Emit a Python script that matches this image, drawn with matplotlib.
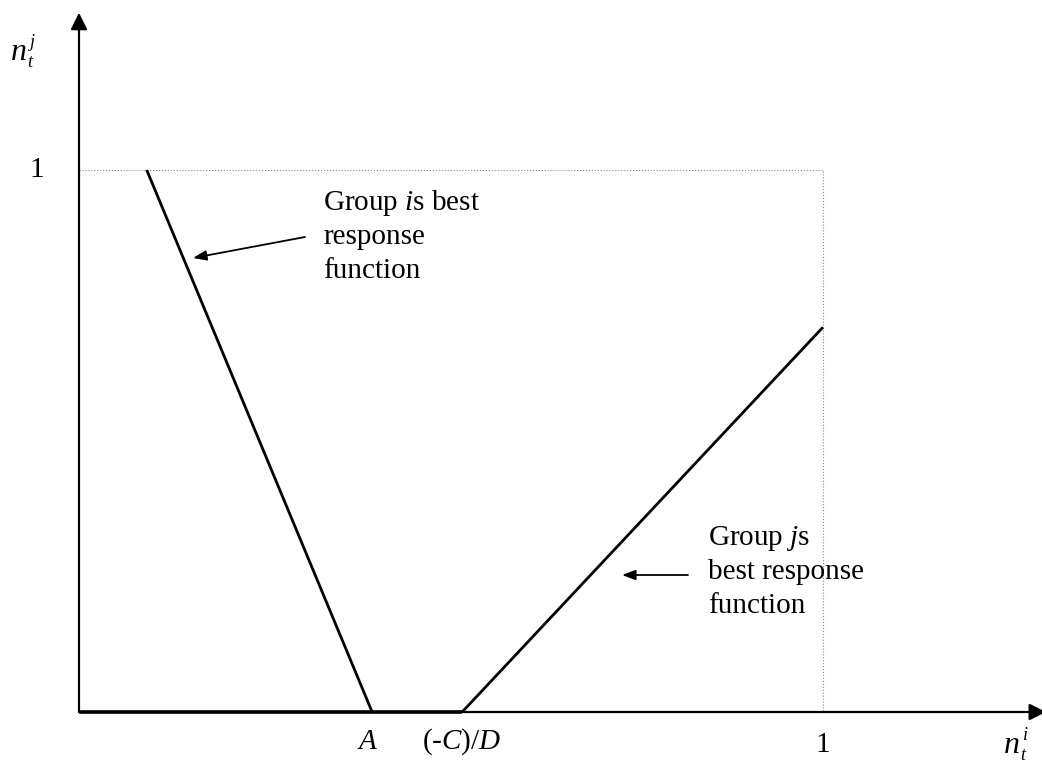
import matplotlib
matplotlib.use("Agg")
import matplotlib.pyplot as plt

plt.rcParams['font.family'] = 'Liberation Serif'
plt.rcParams['mathtext.fontset'] = 'custom'
plt.rcParams['mathtext.rm'] = 'Liberation Serif'
plt.rcParams['mathtext.it'] = 'Liberation Serif:italic'

# key values of the diagram (axes run 0..1)
i_top_x = 0.091      # where group i's line meets n_j = 1
A = 0.394            # group i's line meets n_j = 0
CD = 0.515           # (-C)/D, group j's line leaves the axis
j_end_y = 0.710      # group j's line at n_i = 1
axis_tip = 1.29

FS = 21

# pixel -> data helpers for layout only
def px(x):
    return (x - 79) / 744.0

def py(y):
    return (712 - y) / 542.0

fig = plt.figure(figsize=(10.42, 7.63), dpi=100)
ax = fig.add_axes([0, 0, 1, 1])
ax.set_xlim(px(0), px(1042))
ax.set_ylim(py(763), py(0))
ax.axis('off')

head = '-|>,head_length=1.0,head_width=0.5'
# axes with arrow heads
ax.annotate('', xy=(0, axis_tip), xytext=(0, 0), annotation_clip=False,
            arrowprops=dict(arrowstyle=head, lw=1.6, color='black', shrinkA=0, shrinkB=0))
ax.annotate('', xy=(px(1046), 0), xytext=(0, 0), annotation_clip=False,
            arrowprops=dict(arrowstyle=head, lw=1.6, color='black', shrinkA=0, shrinkB=0))

# dotted unit box
ax.plot([0, 1, 1], [1, 1, 0], color='#888888', lw=0.8, ls=':')

# best response functions
ax.plot([i_top_x, A], [1, 0], color='black', lw=2.0, solid_capstyle='butt')
ax.plot([0, CD], [0, 0], color='black', lw=2.6, solid_capstyle='butt')
ax.plot([CD, 1], [0, j_end_y], color='black', lw=2.0, solid_capstyle='butt')

# annotation arrows
small = '-|>,head_length=0.8,head_width=0.3'
ax.annotate('', xy=(px(193), py(258)), xytext=(px(305), py(237)),
            arrowprops=dict(arrowstyle=small, lw=1.3, color='black', shrinkA=0, shrinkB=0))
ax.annotate('', xy=(px(622), py(575)), xytext=(px(688), py(575)),
            arrowprops=dict(arrowstyle=small, lw=1.3, color='black', shrinkA=0, shrinkB=0))

# text blocks
for s, yy in [(r'Group $i$s best', 210), ('response', 244), ('function', 278)]:
    ax.text(px(323), py(yy), s, fontsize=FS, va='baseline', ha='left')
for s, yy in [(r'Group $j$s', 545), ('best response', 579), ('function', 613)]:
    ax.text(px(708), py(yy), s, fontsize=FS, va='baseline', ha='left')

# axis labels
ax.text(px(37), 1, '1', fontsize=FS, ha='center', va='center')
ax.text(1, py(745), '1', fontsize=FS, ha='center', va='center')
ax.text(px(368), py(742), r'$A$', fontsize=FS, ha='center', va='center')
ax.text(px(462), py(742), r'(-$C$)/$D$', fontsize=FS, ha='center', va='center')

# n_t^j and n_t^i built from pieces
def nlabel(x, y, sup):
    ax.text(px(x), py(y), 'n', fontsize=23, style='italic', ha='left', va='baseline')
    ax.text(px(x + 19), py(y - 13), sup, fontsize=13, style='italic', ha='left', va='baseline')
    ax.text(px(x + 16), py(y + 7), 't', fontsize=13, style='italic', ha='left', va='baseline')

nlabel(11, 60, 'j')
nlabel(1004, 753, 'i')

fig.savefig('out.png', dpi=100)
